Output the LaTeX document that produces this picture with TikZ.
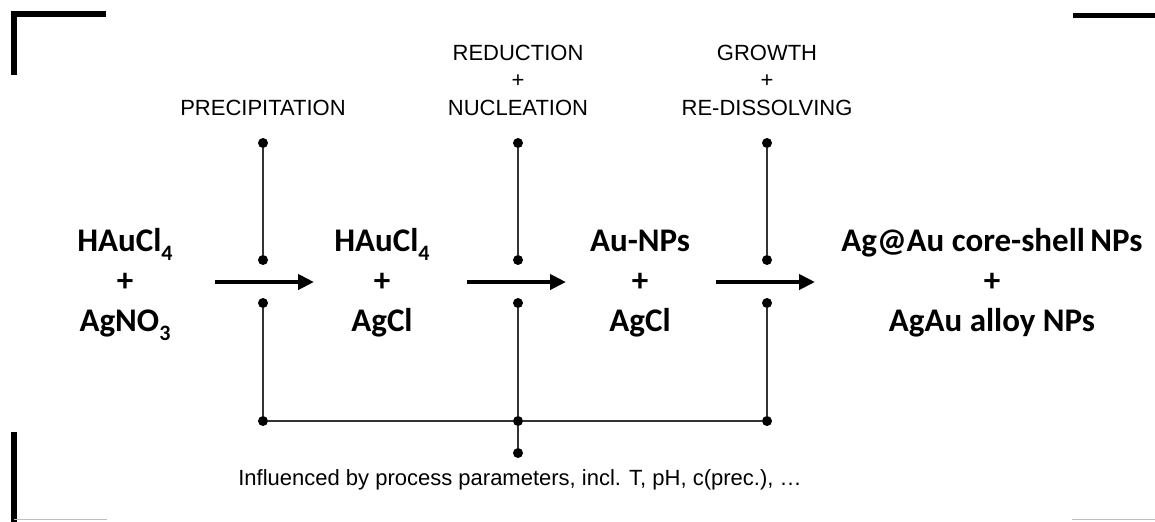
\documentclass[tikz,border=0pt]{standalone}
\usepackage{fontspec}
\setmainfont{Liberation Sans}
\newfontfamily\chemfont{Carlito}
\usetikzlibrary{arrows.meta}
\newcommand{\sbs}[1]{\raisebox{-0.28em}{\fontsize{11}{11}\selectfont #1}}
\begin{document}
\begin{tikzpicture}[x=0.5pt,y=-0.5pt,
  dot/.style={circle,fill=black,inner sep=0pt,minimum size=5pt},
  link/.style={draw=black!80,line width=0.6pt},
  react/.style={line width=2pt,-{Triangle[length=8pt,width=7.5pt]}},
  corner/.style={line width=2.6pt},
  chem/.style={font=\chemfont\bfseries\fontsize{16.5}{20}\selectfont,align=center},
  step label/.style={font=\fontsize{11}{13.75}\selectfont,align=center}]
\useasboundingbox (0,0) rectangle (1155,521);
% corner marks
\draw[corner] (106,14) -- (14,14) -- (14,75);
\draw[corner] (1073,15.5) -- (1160,15.5);
\draw[corner] (14,432) -- (14,525);
\draw[black!25,line width=0.5pt] (14,519.5) -- (107,519.5);
\draw[black!25,line width=0.5pt] (1072,519.5) -- (1155,519.5);
% species
\node[chem] (s0) at (125,283) {\strut HAuCl\sbs{4}\\+\\AgNO\sbs{3}\strut};
\node[chem] (s1) at (382,283) {\strut HAuCl\sbs{4}\\+\\AgCl\strut};
\node[chem] (s2) at (640,283) {\strut Au-NPs\\+\\AgCl\strut};
\node[chem] (s3) at (992,283) {\strut Ag@Au core-shell\,NPs\\+\\AgAu alloy NPs\strut};
% reaction arrows
\coordinate (a1s) at (215,282); \coordinate (a1e) at (314,282);
\coordinate (a2s) at (467,282); \coordinate (a2e) at (566,282);
\coordinate (a3s) at (716,282); \coordinate (a3e) at (815,282);
\draw[react] (a1s) -- (a1e);
\draw[react] (a2s) -- (a2e);
\draw[react] (a3s) -- (a3e);
% step labels
\node[step label] (l1) at (263,108) {PRECIPITATION};
\node[step label] (l2) at (518,80) {REDUCTION\\+\\NUCLEATION};
\node[step label] (l3) at (767,80) {GROWTH\\+\\RE-DISSOLVING};
% dots
\node[dot] (t1) at (263,143) {}; \node[dot] (u1) at (263,260) {}; \node[dot] (d1) at (263,303) {}; \node[dot] (b1) at (263,421) {};
\node[dot] (t2) at (518,143) {}; \node[dot] (u2) at (518,260) {}; \node[dot] (d2) at (518,303) {}; \node[dot] (b2) at (518,421) {};
\node[dot] (t3) at (767,143) {}; \node[dot] (u3) at (767,260) {}; \node[dot] (d3) at (767,303) {}; \node[dot] (b3) at (767,421) {};
\node[dot] (p) at (518,453) {};
% links
\draw[link] (t1) -- (u1); \draw[link] (t2) -- (u2); \draw[link] (t3) -- (u3);
\draw[link] (d1) -- (b1); \draw[link] (d2) -- (b2); \draw[link] (d3) -- (b3);
\draw[link] (b1) -- (b2) -- (b3);
\draw[link] (b2) -- (p);
\node[step label] (par) at (520,480) {Influenced by process parameters, incl. T, pH, c(prec.), …};
\end{tikzpicture}
\end{document}
